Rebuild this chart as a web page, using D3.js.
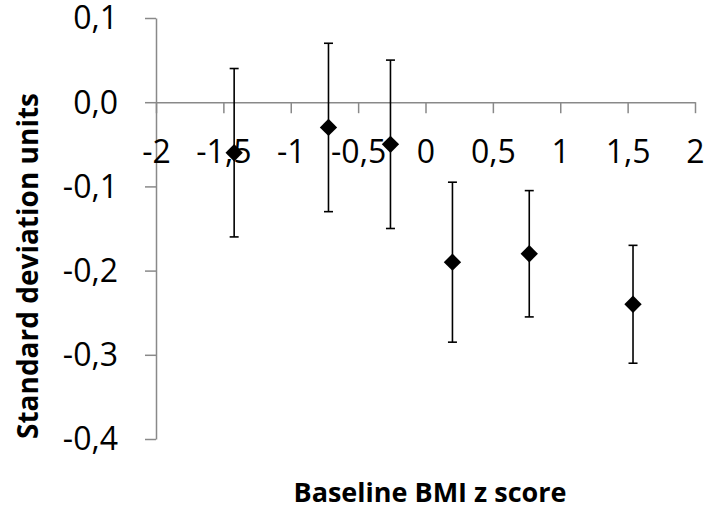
<!DOCTYPE html>
<html>
<head>
<meta charset="utf-8">
<script src="https://cdn.jsdelivr.net/npm/d3@7"></script>
<style>
  body { margin: 0; background: #fff; }
  svg { display: block; font-family: "Open Sans", sans-serif; }
  .axis path, .axis line { stroke: #898989; stroke-width: 1.5; }
</style>
</head>
<body>
<div id="chart"></div>
<script>
// values
const bmiZ   = [-1.42, -0.72, -0.26, 0.20, 0.77, 1.54];
const effect = [-0.06, -0.03, -0.05, -0.19, -0.18, -0.24];
const lower  = [-0.16, -0.13, -0.15, -0.285, -0.255, -0.31];
const upper  = [0.04, 0.07, 0.05, -0.095, -0.105, -0.17];

const xTicks = [-2, -1.5, -1, -0.5, 0, 0.5, 1, 1.5, 2];
const yTicks = [0.1, 0, -0.1, -0.2, -0.3, -0.4];

const xTitle = "Baseline BMI z score";
const yTitle = "Standard deviation units";

const width = 707, height = 511;

const locale = d3.formatLocale({decimal: ",", thousands: ".", grouping: [3], currency: ["", ""], minus: "-"});
const fmtY = locale.format(".1f");
const fmtX = d => String(d).replace(".", ",");

const x = d3.scaleLinear().domain([-2, 2]).range([156, 695]);
const y = d3.scaleLinear().domain([-0.4, 0.1]).range([439, 18]);

const svg = d3.select("#chart").append("svg")
    .attr("width", width)
    .attr("height", height);

// y axis on the left at x = -2
const yAxis = svg.append("g")
    .attr("class", "axis")
    .attr("transform", "translate(" + x(-2) + ",0)")
    .call(d3.axisLeft(y).tickValues(yTicks).tickFormat(fmtY).tickSize(11).tickPadding(27).tickSizeOuter(0));
yAxis.selectAll("text")
    .attr("fill", "#000")
    .attr("dy", "0.34em")
    .style("font-size", "32px")
    .style("font-family", "'Open Sans', sans-serif");

// x axis crosses at y = 0
const xAxis = svg.append("g")
    .attr("class", "axis")
    .attr("transform", "translate(0," + y(0) + ")")
    .call(d3.axisBottom(x).tickValues(xTicks).tickFormat(fmtX).tickSize(11).tickSizeOuter(0));
xAxis.selectAll("text")
    .attr("fill", "#000")
    .attr("y", 61)
    .attr("dy", 0)
    .style("font-size", "32px")
    .style("font-family", "'Open Sans', sans-serif");

const pts = bmiZ.map((v, i) => ({x: v, y: effect[i], lo: lower[i], hi: upper[i]}));

// error bars
const bars = svg.append("g")
    .attr("stroke", "#000")
    .attr("stroke-width", 1.6);
bars.selectAll("line.v")
    .data(pts).enter().append("line")
    .attr("class", "v")
    .attr("x1", d => x(d.x)).attr("x2", d => x(d.x))
    .attr("y1", d => y(d.hi)).attr("y2", d => y(d.lo));
bars.selectAll("line.top")
    .data(pts).enter().append("line")
    .attr("class", "top")
    .attr("x1", d => x(d.x) - 4.5).attr("x2", d => x(d.x) + 4.5)
    .attr("y1", d => y(d.hi)).attr("y2", d => y(d.hi));
bars.selectAll("line.bot")
    .data(pts).enter().append("line")
    .attr("class", "bot")
    .attr("x1", d => x(d.x) - 4.5).attr("x2", d => x(d.x) + 4.5)
    .attr("y1", d => y(d.lo)).attr("y2", d => y(d.lo));

// diamond markers
svg.append("g")
    .selectAll("path")
    .data(pts).enter().append("path")
    .attr("d", d3.symbol(d3.symbolSquare, 150))
    .attr("fill", "#000")
    .attr("transform", d => "translate(" + x(d.x) + "," + y(d.y) + ") rotate(45)");

// axis titles
svg.append("text")
    .attr("x", 430)
    .attr("y", 502)
    .attr("text-anchor", "middle")
    .style("font-size", "27px")
    .style("font-weight", "bold")
    .text(xTitle);

svg.append("text")
    .attr("transform", "translate(38,266) rotate(-90)")
    .attr("text-anchor", "middle")
    .style("font-size", "28px")
    .style("font-weight", "bold")
    .text(yTitle);
</script>
</body>
</html>
